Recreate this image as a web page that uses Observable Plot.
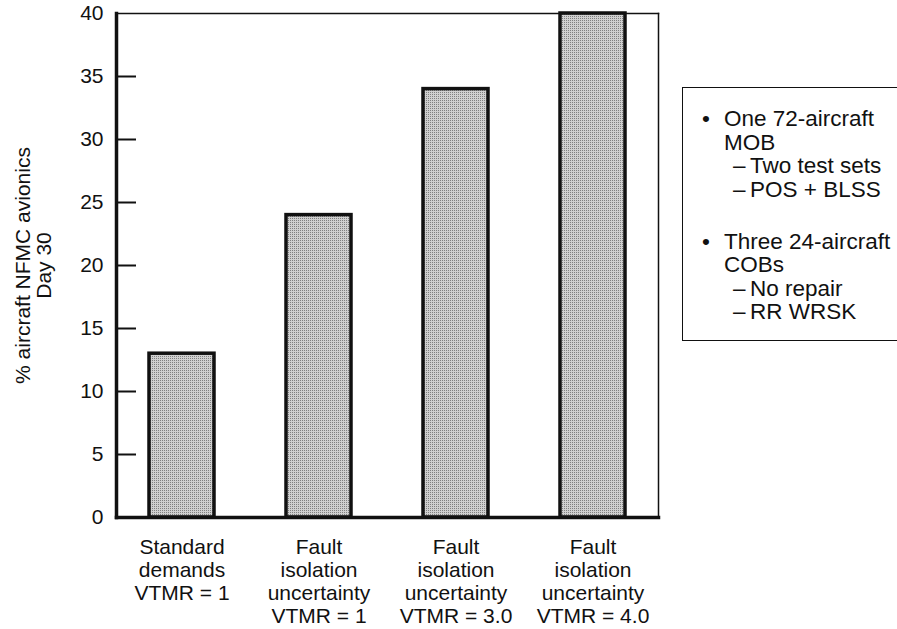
<!DOCTYPE html>
<html><head><meta charset="utf-8">
<script src="https://cdn.jsdelivr.net/npm/d3@7"></script>
<script src="https://cdn.jsdelivr.net/npm/@observablehq/plot@0.6"></script>
<style>
body{margin:0;background:#fff;font-family:"Liberation Sans",Arial,sans-serif;}
#wrap{position:relative;width:897px;height:629px;overflow:hidden;background:#fff;}
#legend{position:absolute;left:682px;top:87px;width:250px;height:254px;border:1.5px solid #111;box-sizing:border-box;font-size:22.5px;color:#111;padding-top:19px;}
.grp{position:relative;}
.grp + .grp{margin-top:28.5px;}
.line{position:relative;height:23.5px;line-height:23.5px;white-space:nowrap;}
.head{padding-left:41px;}
.sub{padding-left:50px;}
.bullet{position:absolute;left:19px;top:0;}
</style></head><body><div id="wrap"></div>
<script>
// ---- data ----
const categories = [
  "Standard\ndemands\nVTMR = 1",
  "Fault\nisolation\nuncertainty\nVTMR = 1",
  "Fault\nisolation\nuncertainty\nVTMR = 3.0",
  "Fault\nisolation\nuncertainty\nVTMR = 4.0"
];
const values = [13, 24, 34, 40];
const yTicks = [0, 5, 10, 15, 20, 25, 30, 35, 40];
const yInnerTicks = [5, 10, 15, 20, 25, 30, 35];
const yLabel = "% aircraft NFMC avionics\nDay 30";
const legendHeads1 = ["One 72-aircraft", "MOB"];
const legendSubs1 = ["Two test sets", "POS + BLSS"];
const legendHeads2 = ["Three 24-aircraft", "COBs"];
const legendSubs2 = ["No repair", "RR WRSK"];

const data = categories.map((c, i) => ({cat: c, value: values[i]}));

const W = 897, ML = 116, MR = 239;
const svg = Plot.plot({
  width: W,
  height: 629,
  marginLeft: ML,
  marginRight: MR,
  marginTop: 13,
  marginBottom: 112,
  style: {fontFamily: "'Liberation Sans', Arial, sans-serif", fontSize: "21px", color: "#111", background: "#fff"},
  x: {type: "band", domain: categories, paddingInner: 0.525, paddingOuter: 0.24},
  y: {domain: [0, 40]},
  marks: [
    Plot.barY(data, {x: "cat", y: "value", fill: "url(#stipple)", stroke: "#111", strokeWidth: 3.5}),
    Plot.tickY(yInnerTicks, {y: d => d, insetRight: (W - ML - MR) - 20, stroke: "#111", strokeWidth: 2}),
    Plot.axisY({ticks: yTicks, tickSize: 0, tickPadding: 13, fontSize: 21, fill: "#111",
      label: yLabel, labelAnchor: "center", labelArrow: "none", labelOffset: 101}),
    Plot.axisX({tickSize: 0, tickPadding: 20, fontSize: 21, lineHeight: 1.1, label: null, fill: "#111"}),
    Plot.frame({anchor: "top", strokeWidth: 1.5, stroke: "#111"}),
    Plot.frame({anchor: "right", strokeWidth: 1.5, stroke: "#111"}),
    Plot.frame({anchor: "left", strokeWidth: 3.5, stroke: "#111"}),
    Plot.frame({anchor: "bottom", strokeWidth: 3.5, stroke: "#111"})
  ]
});

// stipple pattern for bar fill
const defs = d3.select(svg).insert("defs", ":first-child");
const pat = defs.append("pattern").attr("id", "stipple").attr("width", 2).attr("height", 2).attr("patternUnits", "userSpaceOnUse");
pat.append("rect").attr("width", 2).attr("height", 2).attr("fill", "#d0d0d0");
pat.append("rect").attr("x", 0).attr("y", 0).attr("width", 1).attr("height", 1).attr("fill", "#808080");

const wrap = document.getElementById("wrap");
wrap.appendChild(svg);

// legend box
const legend = document.createElement("div");
legend.id = "legend";
function group(heads, subs) {
  const g = document.createElement("div");
  g.className = "grp";
  heads.forEach((t, i) => {
    const l = document.createElement("div");
    l.className = "line head";
    if (i === 0) {
      const b = document.createElement("span");
      b.className = "bullet";
      b.textContent = "•";
      l.appendChild(b);
    }
    l.appendChild(document.createTextNode(t));
    g.appendChild(l);
  });
  subs.forEach(t => {
    const l = document.createElement("div");
    l.className = "line sub";
    l.textContent = "–\u2009" + t;
    g.appendChild(l);
  });
  return g;
}
legend.appendChild(group(legendHeads1, legendSubs1));
legend.appendChild(group(legendHeads2, legendSubs2));
wrap.appendChild(legend);
</script>
</body></html>
